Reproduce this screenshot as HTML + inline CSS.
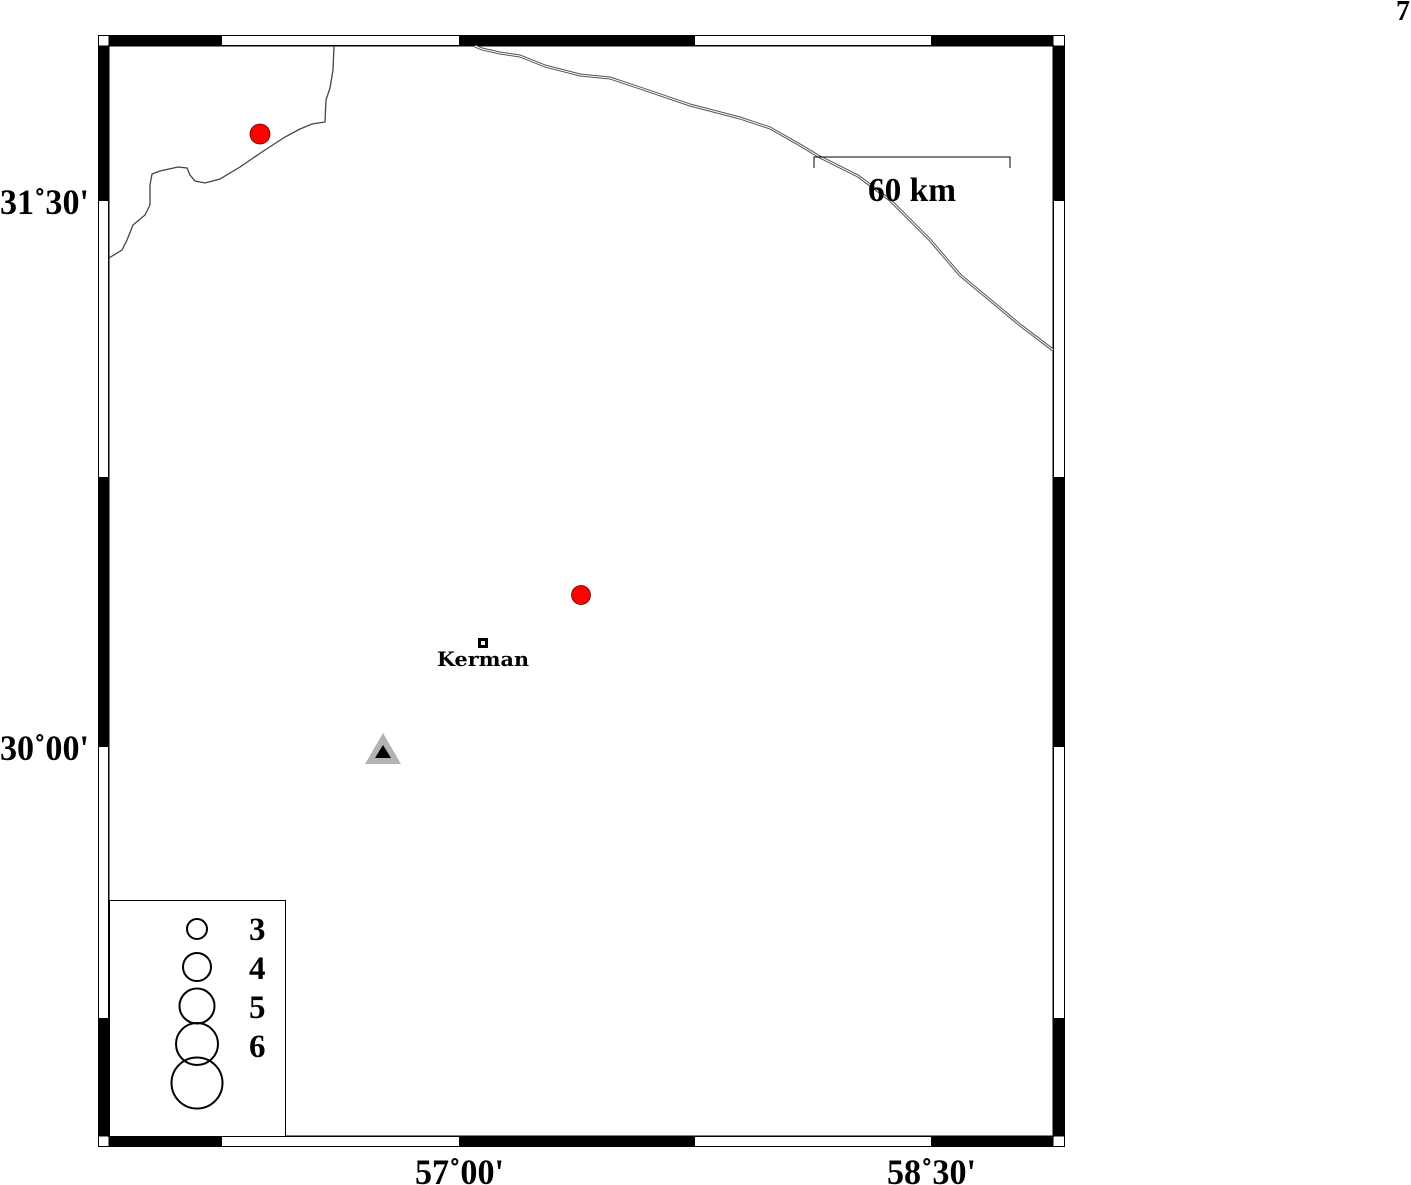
<!DOCTYPE html>
<html><head><style>body{margin:0;background:#fff}svg{display:block}text{font-family:"Liberation Serif",serif;font-weight:bold}</style></head><body>
<svg width="1411" height="1185" viewBox="0 0 1411 1185" xmlns="http://www.w3.org/2000/svg">
<rect x="98.5" y="35.5" width="966" height="1111" fill="#fff" stroke="#000" stroke-width="1"/>
<rect x="108.5" y="45.5" width="945" height="1091" fill="none" stroke="#000" stroke-width="1"/>
<g fill="#000">
<rect x="109" y="36" width="113" height="10"/><rect x="459" y="36" width="236" height="10"/><rect x="931" y="36" width="122" height="10"/>
<rect x="109" y="1136" width="113" height="10"/><rect x="459" y="1136" width="236" height="10"/><rect x="931" y="1136" width="122" height="10"/>
<rect x="99" y="46" width="10" height="155"/><rect x="99" y="477" width="10" height="270"/><rect x="99" y="1018" width="10" height="118"/>
<rect x="1053" y="46" width="11" height="155"/><rect x="1053" y="477" width="11" height="270"/><rect x="1053" y="1018" width="11" height="118"/>
</g>
<g stroke="#000" stroke-width="1">
<line x1="98" y1="46" x2="1064" y2="46"/><line x1="98" y1="1136" x2="1064" y2="1136"/>
<line x1="109" y1="35" x2="109" y2="1146"/><line x1="1053" y1="35" x2="1053" y2="1146"/>
</g>
<path d="M334,46 L333,70 L330,88 L326,100 L325,122 L312,124 L300,129 L285,137 L262,152 L240,167 L220,179 L205,183 L195,181 L190,175 L187,168 L178,167 L160,171 L152,174 L150,185 L150,205 L145,215 L133,225 L127,240 L122,250 L109,258" fill="none" stroke="#444" stroke-width="1.3"/>
<path d="M475,46 L482,49 L500,53 L520,56 L545,66 L580,75 L610,78 L640,88 L690,105 L740,118 L770,128 L800,145 L820,157 L858,176 L890,200 L930,240 L960,275 L990,300 L1020,325 L1053,350" fill="none" stroke="#555" stroke-width="3"/>
<path d="M475,46 L482,49 L500,53 L520,56 L545,66 L580,75 L610,78 L640,88 L690,105 L740,118 L770,128 L800,145 L820,157 L858,176 L890,200 L930,240 L960,275 L990,300 L1020,325 L1053,350" fill="none" stroke="#fff" stroke-width="1"/>
<path d="M814,168 L814,157 L1010,157 L1010,168" fill="none" stroke="#000" stroke-width="1"/>
<text x="868" y="201" font-size="34" textLength="88" lengthAdjust="spacingAndGlyphs">60 km</text>
<circle cx="260" cy="134" r="10" fill="#f00" stroke="#600" stroke-width="0.8"/>
<circle cx="581" cy="595" r="9.5" fill="#f00" stroke="#600" stroke-width="0.8"/>
<rect x="478" y="638" width="10" height="10" fill="#000"/><rect x="481" y="641" width="4" height="4" fill="#fff"/>
<text x="483" y="666" font-size="20" text-anchor="middle" style="font-family:'DejaVu Serif',serif" textLength="92" lengthAdjust="spacingAndGlyphs">Kerman</text>
<polygon points="383,733 365,764 401,764" fill="#b3b3b3"/>
<polygon points="383,745 375,758 391,758" fill="#000"/>
<rect x="109.5" y="900.5" width="176" height="236" fill="#fff" stroke="#000" stroke-width="1"/>
<g fill="none" stroke="#000" stroke-width="2">
<circle cx="197" cy="929" r="10"/><circle cx="197" cy="967" r="14"/><circle cx="197" cy="1006" r="17.5"/><circle cx="197" cy="1044" r="21"/><circle cx="197" cy="1083" r="25.5"/>
</g>
<g font-size="33"><text x="249" y="940">3</text><text x="249" y="979">4</text><text x="249" y="1018">5</text><text x="249" y="1057">6</text></g>
<text x="0" y="214" font-size="36" textLength="89" lengthAdjust="spacingAndGlyphs">31˚30'</text>
<text x="0" y="760" font-size="36" textLength="89" lengthAdjust="spacingAndGlyphs">30˚00'</text>
<text x="415" y="1184" font-size="36" textLength="89" lengthAdjust="spacingAndGlyphs">57˚00'</text>
<text x="887" y="1184" font-size="36" textLength="89" lengthAdjust="spacingAndGlyphs">58˚30'</text>
<text x="1403" y="20" text-anchor="middle" font-size="28">7</text>
</svg>
</body></html>
